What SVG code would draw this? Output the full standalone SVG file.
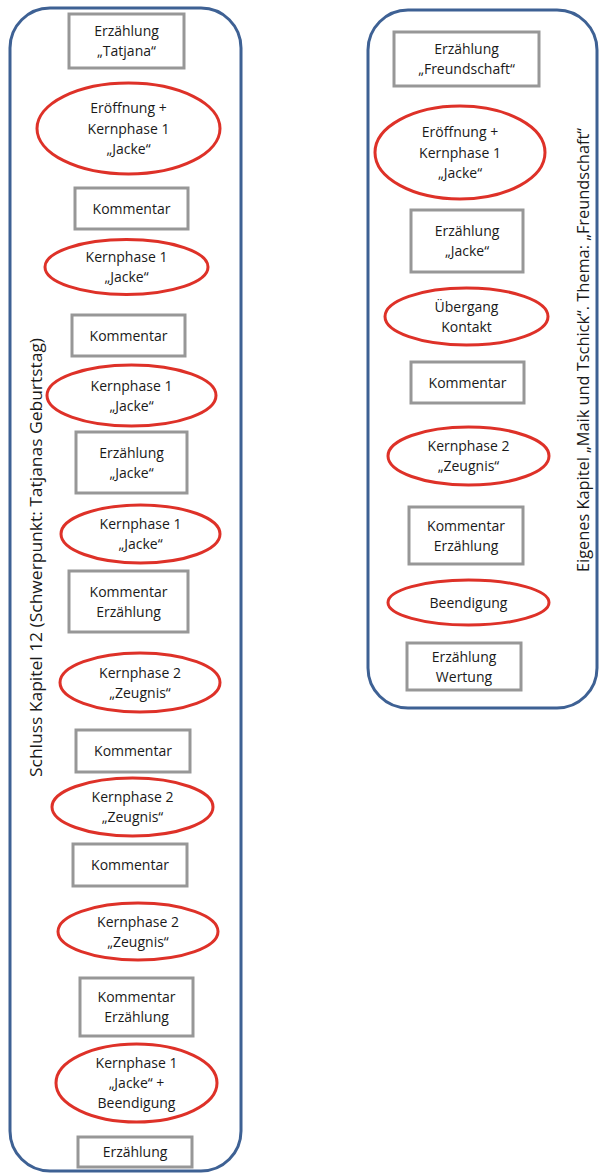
<svg xmlns="http://www.w3.org/2000/svg" width="599" height="1173" viewBox="0 0 599 1173">
<style>
.frame{fill:none;stroke:#3e6194;stroke-width:3}
.box{fill:#fff;stroke:#979797;stroke-width:3}
.ell{fill:#fff;stroke:#de3128;stroke-width:3}
text{font-family:"Open Sans","DejaVu Sans",sans-serif;font-size:14px;fill:#1a1a1a;text-anchor:middle}
.vt{font-size:16.5px}
</style>
<rect width="599" height="1173" fill="#fff"/>
<g id="frame-left"><rect class="frame" x="10" y="8" width="231" height="1163" rx="40"/>
<text class="vt" transform="translate(42,557.5) rotate(-90)" textLength="439" lengthAdjust="spacingAndGlyphs">Schluss Kapitel 12 (Schwerpunkt: Tatjanas Geburtstag)</text></g>
<g id="frame-right"><rect class="frame" x="368" y="10" width="229" height="698" rx="40"/>
<text class="vt" transform="translate(589,350) rotate(-90)" textLength="444" lengthAdjust="spacingAndGlyphs">Eigenes Kapitel „Maik und Tschick“. Thema: „Freundschaft“</text></g>
<g id="connectors"></g>
<g id="L1"><rect class="box" x="69" y="14" width="115" height="54"/><text x="126.5" y="36">Erzählung</text><text x="126.5" y="56">„Tatjana“</text></g>
<g id="L2"><ellipse class="ell" cx="128.5" cy="128.5" rx="91.5" ry="45.5"/><text x="128.5" y="113">Eröffnung +</text><text x="128.5" y="133.5">Kernphase 1</text><text x="128.5" y="154">„Jacke“</text></g>
<g id="L3"><rect class="box" x="75" y="188" width="113" height="41"/><text x="131.5" y="213.5">Kommentar</text></g>
<g id="L4"><ellipse class="ell" cx="126.5" cy="267" rx="81.5" ry="27.5"/><text x="126.5" y="262">Kernphase 1</text><text x="126.5" y="282">„Jacke“</text></g>
<g id="L5"><rect class="box" x="72" y="315" width="113" height="41"/><text x="128.5" y="340.5">Kommentar</text></g>
<g id="L6"><ellipse class="ell" cx="131.5" cy="395.5" rx="84.5" ry="30.5"/><text x="131.5" y="390.5">Kernphase 1</text><text x="131.5" y="410.5">„Jacke“</text></g>
<g id="L7"><rect class="box" x="76" y="432" width="111" height="61"/><text x="131.5" y="457.5">Erzählung</text><text x="131.5" y="477.5">„Jacke“</text></g>
<g id="L8"><ellipse class="ell" cx="140.5" cy="534" rx="79.5" ry="29"/><text x="140.5" y="529">Kernphase 1</text><text x="140.5" y="549">„Jacke“</text></g>
<g id="L9"><rect class="box" x="69" y="571" width="119" height="61"/><text x="128.5" y="596.5">Kommentar</text><text x="128.5" y="616.5">Erzählung</text></g>
<g id="L10"><ellipse class="ell" cx="140" cy="682.5" rx="80" ry="29.5"/><text x="140" y="677.5">Kernphase 2</text><text x="140" y="697.5">„Zeugnis“</text></g>
<g id="L11"><rect class="box" x="76" y="730" width="114" height="42"/><text x="133" y="756">Kommentar</text></g>
<g id="L12"><ellipse class="ell" cx="132.5" cy="807" rx="80.5" ry="29"/><text x="132.5" y="802">Kernphase 2</text><text x="132.5" y="822">„Zeugnis“</text></g>
<g id="L13"><rect class="box" x="73" y="844" width="114" height="42"/><text x="130" y="870">Kommentar</text></g>
<g id="L14"><ellipse class="ell" cx="138" cy="931.5" rx="80" ry="28.5"/><text x="138" y="926.5">Kernphase 2</text><text x="138" y="946.5">„Zeugnis“</text></g>
<g id="L15"><rect class="box" x="80" y="978" width="113" height="58"/><text x="136.5" y="1002">Kommentar</text><text x="136.5" y="1022">Erzählung</text></g>
<g id="L16"><ellipse class="ell" cx="136.5" cy="1083" rx="80.5" ry="39"/><text x="136.5" y="1068">Kernphase 1</text><text x="136.5" y="1088">„Jacke“ +</text><text x="136.5" y="1108">Beendigung</text></g>
<g id="L17"><rect class="box" x="78" y="1137" width="114" height="30"/><text x="135" y="1157">Erzählung</text></g>
<g id="R1"><rect class="box" x="394" y="32" width="145" height="54"/><text x="466.5" y="54">Erzählung</text><text x="466.5" y="74">„Freundschaft“</text></g>
<g id="R2"><ellipse class="ell" cx="460" cy="152.5" rx="85" ry="46.5"/><text x="460" y="137">Eröffnung +</text><text x="460" y="157.5">Kernphase 1</text><text x="460" y="178">„Jacke“</text></g>
<g id="R3"><rect class="box" x="411" y="210" width="112" height="62"/><text x="467" y="236">Erzählung</text><text x="467" y="256">„Jacke“</text></g>
<g id="R4"><ellipse class="ell" cx="466.5" cy="316.5" rx="81.5" ry="28.5"/><text x="466.5" y="311.5">Übergang</text><text x="466.5" y="331.5">Kontakt</text></g>
<g id="R5"><rect class="box" x="411" y="362" width="113" height="41"/><text x="467.5" y="387.5">Kommentar</text></g>
<g id="R6"><ellipse class="ell" cx="468.5" cy="456" rx="80.5" ry="29"/><text x="468.5" y="451">Kernphase 2</text><text x="468.5" y="471">„Zeugnis“</text></g>
<g id="R7"><rect class="box" x="409" y="507" width="114" height="57"/><text x="466" y="530.5">Kommentar</text><text x="466" y="550.5">Erzählung</text></g>
<g id="R8"><ellipse class="ell" cx="468.5" cy="602.5" rx="80.5" ry="22.5"/><text x="468.5" y="607.5">Beendigung</text></g>
<g id="R9"><rect class="box" x="407" y="643" width="114" height="47"/><text x="464" y="661.5">Erzählung</text><text x="464" y="681.5">Wertung</text></g>
</svg>
